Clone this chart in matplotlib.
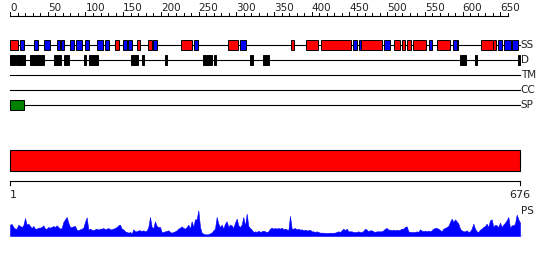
import numpy as np
import matplotlib.pyplot as plt
from matplotlib.patches import Rectangle

seq_len = 676

# secondary structure (residue ranges)
helix = [(1, 10), (140, 144), (169, 172), (184, 188), (228, 241), (290, 302),
         (373, 377), (394, 408), (413, 452), (466, 493), (510, 517), (521, 523),
         (527, 532), (535, 551), (567, 583), (625, 640), (641, 644)]
strand = [(14, 19), (33, 37), (46, 53), (63, 66), (69, 72), (81, 85), (88, 95),
          (101, 105), (116, 123), (127, 131), (151, 155), (158, 162), (190, 195),
          (245, 249), (306, 313), (455, 460), (463, 465), (497, 504), (556, 560),
          (588, 592), (593, 594), (648, 652), (656, 664), (667, 674)]
disorder = [(1, 7), (9, 20), (28, 30), (32, 34), (36, 45), (59, 67), (73, 75),
            (76, 78), (99, 101), (106, 117), (161, 169), (176, 178), (206, 208),
            (257, 268), (271, 273), (319, 322), (336, 343), (597, 605),
            (617, 619), (674, 676)]
transmem = []
coiled = []
signal = [(1, 18)]
domains = [(1, 676)]

ruler_minor = np.arange(0, 661, 10)
ruler_major = np.arange(0, 651, 50)

ps_scores = [
    34, 36, 27, 22, 22, 34, 30, 27, 32, 54, 34, 37, 30, 24, 30, 22, 22, 25, 25, 27,
    32, 22, 22, 27, 25, 27, 30, 27, 32, 27, 22, 24, 42, 50, 57, 40, 27, 27, 29, 30,
    19, 17, 20, 22, 25, 42, 56, 19, 22, 19, 17, 20, 22, 19, 22, 22, 24, 20, 22, 24,
    20, 20, 22, 24, 27, 32, 34, 22, 20, 14, 12, 10, 12, 7, 20, 14, 14, 17, 17, 15,
    17, 14, 16, 27, 57, 27, 24, 44, 30, 27, 27, 12, 12, 14, 15, 17, 12, 10, 12, 14,
    17, 22, 25, 29, 24, 22, 27, 34, 22, 44, 27, 50, 50, 77, 27, 10, 7, 5, 5, 5,
    8, 10, 17, 22, 57, 37, 27, 34, 22, 37, 44, 27, 34, 32, 24, 40, 52, 32, 27, 34,
    57, 30, 67, 30, 24, 19, 12, 14, 12, 16, 12, 14, 16, 14, 12, 14, 22, 25, 22, 24,
    22, 24, 22, 25, 20, 22, 20, 17, 60, 22, 22, 24, 20, 22, 19, 20, 17, 19, 17, 17,
    19, 14, 14, 12, 14, 12, 10, 10, 10, 9, 9, 9, 10, 9, 10, 10, 12, 14, 12, 17,
    22, 17, 22, 14, 14, 14, 12, 12, 12, 14, 12, 12, 15, 22, 19, 14, 17, 17, 14, 12,
    14, 14, 14, 14, 17, 22, 24, 19, 19, 17, 19, 17, 19, 17, 19, 22, 22, 27, 29, 14,
    12, 12, 12, 12, 14, 12, 20, 16, 14, 16, 14, 16, 14, 17, 22, 24, 24, 22, 18, 14,
    22, 24, 27, 30, 42, 52, 42, 50, 44, 37, 22, 17, 14, 14, 17, 12, 14, 22, 37, 22,
    14, 12, 19, 22, 27, 30, 37, 27, 47, 50, 27, 34, 32, 27, 40, 27, 34, 40, 47, 57,
    24, 32, 32, 37, 64, 50, 40,
]

W, H = 550, 260
px = 510 / seq_len  # pixels per residue
left = 10

track_y = {'SS': 45, 'D': 60, 'TM': 75, 'CC': 90, 'SP': 105}
box_h = 10
label_kw = dict(fontsize=7.5, color='#222222', va='center', ha='left')

fig = plt.figure(figsize=(W / 100, H / 100), dpi=100)
ax = fig.add_axes([0, 0, 1, 1])
ax.set_xlim(-left / px, (W - left) / px)
ax.set_ylim(H, 0)
ax.axis('off')


def boxes(ranges, y, color, h=box_h):
    for s, e in ranges:
        ax.add_patch(Rectangle((s - 1, y - h / 2), e - s + 1, h, facecolor=color,
                               edgecolor='black', lw=0.7, zorder=3))


# top ruler
ax.plot([0, ruler_minor[-1]], [15.5, 15.5], color='black', lw=0.8)
for t in ruler_minor:
    top = 11.5 if t % 50 == 0 else 12.5
    ax.plot([t, t], [top, 15.5], color='black', lw=0.7)
for t in ruler_major:
    ax.text(t, 8, str(t), fontsize=7.5, color='#222222', ha='left', va='center')

# feature tracks
for name, y in track_y.items():
    ax.plot([0, seq_len], [y, y], color='black', lw=0.8, zorder=1)
    ax.text(seq_len + 1, y, name, **label_kw)

boxes(helix, track_y['SS'], '#ff0000')
boxes(strand, track_y['SS'], '#0000ff')
boxes(disorder, track_y['D'], 'black')
boxes(transmem, track_y['TM'], '#ffcc00')
boxes(coiled, track_y['CC'], '#00cccc')
boxes(signal, track_y['SP'], '#008000')

# domain bar
for s, e in domains:
    ax.add_patch(Rectangle((s - 1, 150), e - s + 1, 20.5, facecolor='#ff0000',
                           edgecolor='black', lw=0.8))

# bottom ruler
ax.plot([0, seq_len], [180.5, 180.5], color='black', lw=0.8)
for t in [0, seq_len]:
    ax.plot([t, t], [180.5, 185], color='black', lw=0.8)
ax.text(0, 195, '1', fontsize=8, color='#222222', ha='left', va='center')
ax.text(seq_len, 195, str(seq_len), fontsize=8, color='#222222', ha='center', va='center')

# PS profile
ax2 = fig.add_axes([0, (H - 236) / H, 1, 31 / H])
ax2.set_xlim(ax.get_xlim())
ax2.set_ylim(0, 93)
ax2.axis('off')
xs = np.linspace(0, seq_len, len(ps_scores))
ax2.fill_between(xs, 0, ps_scores, color='#0000ff', lw=0.4)
ax2.plot([0, seq_len + 3], [0.5, 0.5], color='#0000ff', lw=1)
ax.text(seq_len + 1, 211, 'PS', **label_kw)

fig.savefig('out.png', dpi=100)
